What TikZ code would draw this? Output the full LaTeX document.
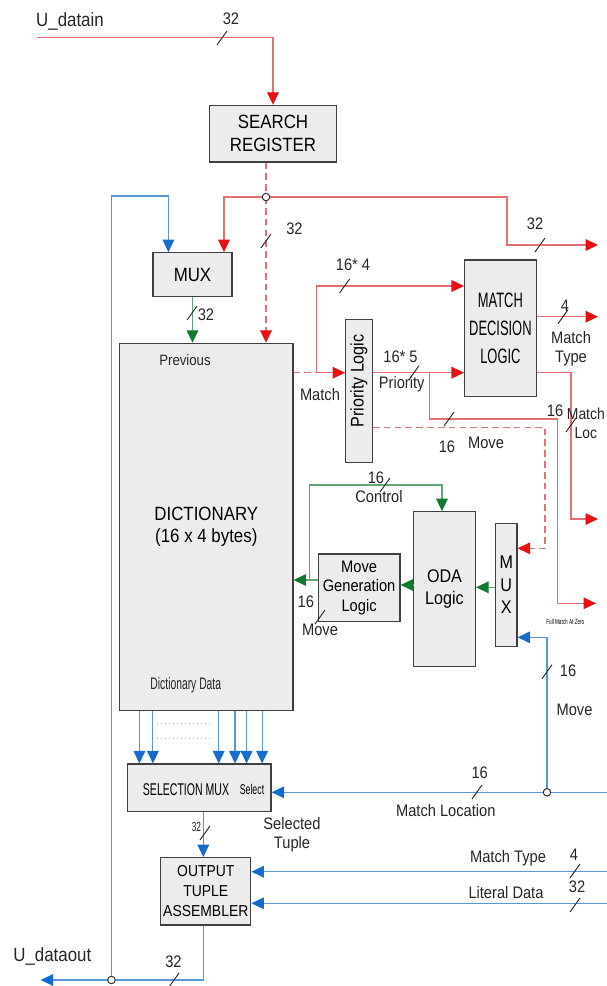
\documentclass[tikz,border=0pt]{standalone}
\usepackage{fontspec}
\setmainfont{Liberation Sans}[FakeStretch=0.88]
\newfontfamily\narrowfont{Liberation Sans}[FakeStretch=0.62]
\usetikzlibrary{arrows.meta}
\definecolor{redln}{RGB}{226,112,112}
\definecolor{redtp}{RGB}{232,16,16}
\definecolor{blueln}{RGB}{88,150,214}
\definecolor{bluetp}{RGB}{22,108,206}
\definecolor{greenln}{RGB}{96,168,118}
\definecolor{greentp}{RGB}{18,122,48}
\definecolor{boxfill}{RGB}{236,236,236}

\begin{document}
\begin{tikzpicture}[x=0.6pt, y=-0.6pt,
    blk/.style={draw=black!75, fill=boxfill, line width=0.7pt, inner sep=0pt, align=center, font=\fontsize{11}{13}\selectfont},
    lbl/.style={inner sep=0.5pt, align=center, text=black!85, font=\fontsize{10}{11.5}\selectfont},
    redline/.style={draw=redln, line width=0.7pt},
    reddash/.style={draw=redln, line width=0.7pt, dash pattern=on 4pt off 2.5pt},
    blueline/.style={draw=blueln, line width=0.7pt},
    greenline/.style={draw=greenln, line width=0.7pt},
    rarr/.style={-{Triangle[width=7pt,length=7.5pt,color=redtp]}},
    barr/.style={-{Triangle[width=7pt,length=7.5pt,color=bluetp]}},
    garr/.style={-{Triangle[width=7pt,length=7.5pt,color=greentp]}},
    dot/.style={circle, draw=black!80, fill=white, line width=0.6pt, inner sep=0pt, minimum size=4.5pt},
    busmark/.pic={\draw[black!85, line width=0.55pt] (-5,7) -- (5,-7);}
]
    \useasboundingbox[fill=white] (0,0) rectangle (607,986);

    % Blocks
    \node[blk, minimum width=76pt, minimum height=34pt, font=\fontsize{11.5}{14}\selectfont] (sreg) at (273,133.7) {SEARCH\\REGISTER};
    \node[blk, minimum width=47.4pt, minimum height=26.4pt, font=\fontsize{11.5}{14}\selectfont] (mux) at (192.5,274.7) {MUX};
    \node[blk, minimum width=104pt, minimum height=220.4pt, font=\fontsize{11.5}{13}\selectfont] (dict) at (206.3,527) {DICTIONARY\\(16 x 4 bytes)};
    \node[blk, minimum width=16pt, minimum height=86pt] (prio) at (359,391) {};
    \node[rotate=90, inner sep=0pt, font=\fontsize{11}{13}\selectfont] (priotxt) at (359,381) {Priority Logic};
    \node[blk, minimum width=43pt, minimum height=82pt, font=\narrowfont\fontsize{12.5}{16.6}\selectfont] (mdl) at (500.4,328.3) {MATCH\\DECISION\\LOGIC};
    \node[blk, minimum width=12.9pt, minimum height=74pt, font=\fontsize{11}{13.5}\selectfont] (mux2) at (506.3,585) {M\\U\\X};
    \node[blk, minimum width=37.2pt, minimum height=93pt, font=\fontsize{11}{13}\selectfont] (oda) at (444.5,589.2) {ODA\\Logic};
    \node[blk, minimum width=49.1pt, minimum height=40.6pt, font=\fontsize{10}{11.7}\selectfont] (mgl) at (359.1,587.9) {Move\\Generation\\Logic};
    \node[blk, minimum width=86pt, minimum height=28.6pt] (smux) at (199.4,787.9) {};
    \node[blk, minimum width=54.1pt, minimum height=40.4pt, font=\fontsize{9.5}{12}\selectfont] (ota) at (205.8,891.4) {OUTPUT\\TUPLE\\ASSEMBLER};

    % Texts inside blocks
    \node[lbl, font=\fontsize{9}{11}\selectfont] (prev) at (185,360) {Previous};
    \node[lbl, font=\narrowfont\fontsize{10}{12}\selectfont] (ddata) at (185.8,685) {Dictionary Data};
    \node[inner sep=0pt, font=\narrowfont\fontsize{10.2}{12}\selectfont] (smuxtxt) at (186,790) {SELECTION MUX};
    \node[inner sep=0pt, font=\narrowfont\fontsize{8.5}{10}\selectfont] (seltxt) at (252,789) {Select};

    % Free ends and junctions
    \coordinate (din) at (37,37.7);
    \coordinate (jt) at (266,197);
    \coordinate (ym) at (0,372.7);
    \coordinate (jb) at (111.5,980);
    \coordinate (dout) at (40.7,980);
    \coordinate (jm) at (547,792.3);
    \coordinate (mlin) at (607,792.3);
    \coordinate (mtin) at (607,871.7);
    \coordinate (ldin) at (607,903.3);

    % Red paths
    \draw[redline, rarr] (din) -| (sreg.north);
    \draw[reddash] (sreg.south -| jt) -- (jt);
    \draw[reddash, rarr] (jt) -- (jt |- dict.north);
    \draw[redline, rarr] (jt) -| (224,0 |- mux.north);
    \draw[redline, rarr] (jt) -| (507,245) -- (598,245);
    \draw[reddash] (dict.east |- ym) -- (316.7,372.7);
    \draw[redline, rarr] (316.7,372.7) -- (prio.west |- ym);
    \draw[redline, rarr] (316.7,372.7) |- (mdl.west |- 0,286);
    \draw[redline, rarr] (prio.east |- ym) -- (mdl.west |- ym);
    \draw[redline, rarr] (429.7,372.7) |- (557.5,419) |- (596,603.3);
    \draw[redline, rarr] (mdl.east |- 0,316.7) -- (598,316.7);
    \draw[redline, rarr] (mdl.east |- ym) -| (571,519) -- (598,519);
    \draw[reddash, rarr] (prio.east |- 0,427.3) -| (545,548.3) -- (mux2.east |- 0,548.3);

    % Green paths
    \draw[greenline, garr] (mux.south) -- (mux.south |- dict.north);
    \draw[greenline, garr] (mux2.west |- 0,587.3) -- (oda.east |- 0,587.3);
    \draw[greenline, garr] (oda.west |- 0,585) -- (mgl.east |- 0,585);
    \draw[greenline, garr] (mgl.west |- 0,580) -- (dict.east |- 0,580);
    \draw[greenline, garr] (309.7,580) |- (442,485) -- (442,0 |- oda.north);

    % Blue paths
    \draw[blueline, barr] (jb) |- (168.4,196) -- (168.4,0 |- mux.north);
    \draw[blueline, barr] (203.3,0 |- ota.south) |- (dout);
    \draw[blueline, barr] (mlin) -- (smux.east |- mlin);
    \draw[blueline, barr] (jm) |- (mux2.east |- 0,637.3);
    \draw[blueline, barr] (mtin) -- (ota.east |- mtin);
    \draw[blueline, barr] (ldin) -- (ota.east |- ldin);
    \draw[blueline, barr] (203.3,0 |- smux.south) -- (203.3,0 |- ota.north);
    \foreach \x in {139.4,152.9,218.7,235,246.6,262.1}
        \draw[blueline, barr] (\x,0 |- dict.south) -- (\x,0 |- smux.north);
    \draw[black!30, line width=0.4pt, dotted] (157,723) -- (213,723);
    \draw[black!30, line width=0.4pt, dotted] (157,738) -- (213,738);

    % Junction dots
    \node[dot] (jtdot) at (jt) {};
    \node[dot] (jbdot) at (jb) {};
    \node[dot] (jmdot) at (jm) {};

    % Bus width marks
    \foreach \p in {(222,38),(266,241),(540,245),(192,313),(344.6,286),(414,372.7),(449,419),(563,316.7),(571,425),(385,485),(320,617),(547,671.7),(477,792),(205,833),(575,871),(575,905),(174,980)}
        \pic at \p {busmark};

    % Signal labels
    \node[lbl, font=\fontsize{11.5}{13}\selectfont] (udin) at (70,21) {U\_datain};
    \node[lbl, font=\fontsize{11.5}{13}\selectfont] (udout) at (52.3,956) {U\_dataout};
    \node[lbl] (w32a) at (231,19) {32};
    \node[lbl] (w32b) at (294.5,229) {32};
    \node[lbl] (w32c) at (535,224) {32};
    \node[lbl] (w32d) at (206,315) {32};
    \node[lbl] (w164) at (353,265) {16* 4};
    \node[lbl] (lmatch) at (320,395) {Match};
    \node[lbl] (w165) at (400.5,356.7) {16* 5};
    \node[lbl] (lprio) at (401.7,384) {Priority};
    \node[lbl] (w4a) at (565,306) {4};
    \node[lbl] (lmtype) at (571,349) {Match\\Type};
    \node[lbl] (w16a) at (555,411) {16};
    \node[lbl, anchor=east, font=\fontsize{9.5}{11.5}\selectfont] (lmloc) at (606,423) {Match\\Loc};
    \node[lbl] (w16b) at (447,447) {16};
    \node[lbl] (lmove) at (486,443) {Move};
    \node[lbl] (w16c) at (376,478) {16};
    \node[lbl] (lctrl) at (379,496.7) {Control};
    \node[lbl] (w16d) at (305.8,602) {16};
    \node[lbl] (lmgmove) at (320,630) {Move};
    \node[anchor=west, inner sep=0pt, font=\narrowfont\fontsize{4.5}{5}\selectfont] (lfull) at (546,622) {Full Match At Zero};
    \node[lbl] (w16e) at (568,671) {16};
    \node[lbl] (lmvin) at (574.5,710) {Move};
    \node[lbl] (w16f) at (479.7,773) {16};
    \node[lbl] (lmloc2) at (445.8,811) {Match Location};
    \node[lbl, font=\narrowfont\fontsize{8}{9}\selectfont] (w32e) at (196.5,827) {32};
    \node[lbl] (lsel) at (292,835) {Selected\\Tuple};
    \node[lbl] (lmtype2) at (508,858.3) {Match Type};
    \node[lbl] (w4b) at (574,855) {4};
    \node[lbl] (llit) at (506,893) {Literal Data};
    \node[lbl] (w32f) at (577,887) {32};
    \node[lbl] (w32g) at (173.5,962) {32};

\end{tikzpicture}
\end{document}
